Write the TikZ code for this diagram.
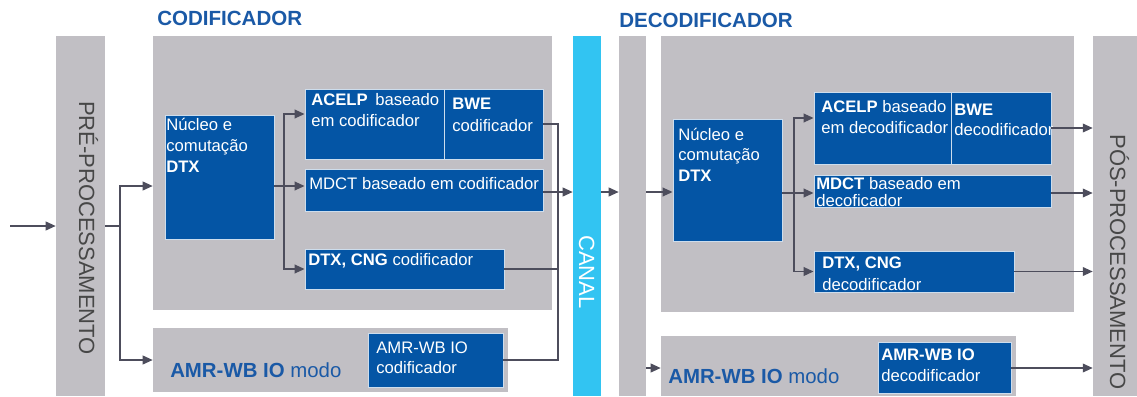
\documentclass[tikz,border=0pt]{standalone}
\usepackage{fontspec}
\setmainfont{Liberation Sans}
\usetikzlibrary{arrows.meta,fit}
\definecolor{cinza}{RGB}{193,191,196}
\definecolor{azulbloco}{RGB}{4,85,165}
\definecolor{azultitulo}{RGB}{26,89,166}
\definecolor{ciano}{RGB}{50,196,242}
\definecolor{cinzaseta}{RGB}{77,77,92}
\tikzset{
  zona/.style={fill=cinza, inner sep=0pt},
  bloco/.style={fill=azulbloco, draw=white!80!azulbloco, line width=0.6pt, inner sep=0pt},
  txt/.style={text=white, inner sep=0pt, anchor=base west, font=\fontsize{12.5}{14}\selectfont},
  titulo/.style={text=azultitulo, inner sep=0pt, anchor=base west, font=\fontsize{15.4}{18}\selectfont\bfseries},
  modo/.style={text=azultitulo, inner sep=0pt, anchor=base west, font=\fontsize{15.3}{18}\selectfont},
  barra/.style={inner sep=0pt, anchor=base, rotate=-90, text=black!72, font=\fontsize{16.5}{18}\selectfont},
  linha/.style={draw=cinzaseta, line width=1.3pt},
  seta/.style={linha, -{Triangle[length=7.5pt,width=6.5pt]}},
}
\begin{document}
\begin{tikzpicture}[x=0.75pt,y=-0.75pt]
\useasboundingbox (0,0) rectangle (1137,396);

% faixas e zonas
\node[zona, fit={(56,36) (105,396)}] (pre) {};
\node[zona, fit={(153,36) (552,310)}] (codzona) {};
\node[zona, fit={(153,328) (508,392)}] (codmodo) {};
\node[fill=ciano, inner sep=0pt, fit={(573,36) (601,396)}] (canal) {};
\node[zona, fit={(619,36) (646,396)}] (decbarra) {};
\node[zona, fit={(661,36) (1074,312)}] (deczona) {};
\node[zona, fit={(661,336) (1016,396)}] (decmodo) {};
\node[zona, fit={(1093,36) (1137,396)}] (pos) {};

\node[titulo] (codtit) at (157,26) {CODIFICADOR};
\node[titulo] (dectit) at (619,27) {DECODIFICADOR};

\node[barra] (pretxt) at (79,228) {PRÉ-PROCESSAMENTO};
\node[barra, text=white] (canaltxt) at (579,272) {CANAL};
\node[barra] (postxt) at (1110,262) {PÓS-PROCESSAMENTO};

% codificador
\node[bloco, fit={(165,115) (274,239)}] (codnucleo) {};
\node[bloco, fit={(305,89) (444,159)}] (codacelp) {};
\node[bloco, fit={(444,89) (543,159)}] (codbwe) {};
\node[bloco, fit={(305,169) (543,211)}] (codmdct) {};
\node[bloco, fit={(305,249) (504,289)}] (coddtx) {};
\node[bloco, fit={(368,333) (503,387)}] (codamr) {};

\node[txt] (cn1) at (166,130) {Núcleo e};
\node[txt] (cn2) at (166,151) {comutação};
\node[txt] (cn3) at (166,172) {\textbf{DTX}};
\node[txt] (ca1) at (311,105) {\textbf{ACELP}\hspace{0.45em}baseado};
\node[txt] (ca2) at (311,126) {em codificador};
\node[txt] (cb1) at (452,109) {\textbf{BWE}};
\node[txt] (cb2) at (452,131) {codificador};
\node[txt] (cm1) at (309,189) {MDCT baseado em codificador};
\node[txt] (cd1) at (308,265) {\textbf{DTX, CNG} codificador};
\node[txt] (cw1) at (376,353) {AMR-WB IO};
\node[txt] (cw2) at (376,373) {codificador};
\node[modo] (cmodo) at (170,377) {\textbf{AMR-WB IO} modo};

% decodificador
\node[bloco, fit={(673,119) (782,241)}] (decnucleo) {};
\node[bloco, fit={(814,92) (951,164)}] (decacelp) {};
\node[bloco, fit={(951,92) (1051,164)}] (decbwe) {};
\node[bloco, fit={(814,175) (1051,207)}] (decmdct) {};
\node[bloco, fit={(814,251) (1014,292)}] (decdtx) {};
\node[bloco, fit={(878,342) (1011,393)}] (decamr) {};

\node[txt] (dn1) at (678,140) {Núcleo e};
\node[txt] (dn2) at (678,160) {comutação};
\node[txt] (dn3) at (678,181) {\textbf{DTX}};
\node[txt] (da1) at (821,112) {\textbf{ACELP} baseado};
\node[txt] (da2) at (821,133) {em decodificador};
\node[txt] (db1) at (954,115) {\textbf{BWE}};
\node[txt] (db2) at (954,135) {decodificador};
\node[txt] (dm1) at (816,189) {\textbf{MDCT} baseado em};
\node[txt] (dm2) at (816,206) {decoficador};
\node[txt] (dd1) at (822,268) {\textbf{DTX, CNG}};
\node[txt] (dd2) at (822,290) {decodificador};
\node[txt] (dw1) at (881,360) {\textbf{AMR-WB IO}};
\node[txt] (dw2) at (881,381) {decodificador};
\node[modo] (dmodo) at (668,383) {\textbf{AMR-WB IO} modo};

% ligacoes codificador
\coordinate (entrada) at (10,226);
\coordinate (cram) at (120,226);
\coordinate (codvert) at (284,186);
\coordinate (codsaida) at (558,192);
\draw[seta] (entrada) -- (entrada -| pre.west);
\draw[linha] (cram -| pre.east) -- (cram);
\draw[seta] (cram) |- (codzona.west |- 0,186);
\draw[seta] (cram) |- (codmodo.west);
\draw[linha] (codnucleo.east |- codvert) -- (codvert);
\draw[seta] (codvert) |- (codacelp.west |- 0,114);
\draw[seta] (codvert) -- (codmdct.west |- codvert);
\draw[seta] (codvert) |- (coddtx.west);
\draw[linha] (codbwe.east |- 0,124) -| (codsaida |- codamr.east) -- (codamr.east);
\draw[linha] (coddtx.east) -- (coddtx.east -| codsaida);
\draw[seta] (codmdct.east |- codsaida) -- (canal.west |- codsaida);

% ligacoes decodificador
\coordinate (decvert) at (794,193);
\draw[seta] (canal.east |- codsaida) -- (decbarra.west |- codsaida);
\draw[seta] (decbarra.east |- codsaida) -- (decnucleo.west |- codsaida);
\draw[seta] (decbarra.east |- 0,368) -- (decmodo.west |- 0,368);
\draw[linha] (decnucleo.east |- decvert) -- (decvert);
\draw[seta] (decvert) |- (decacelp.west |- 0,118);
\draw[seta] (decvert) -- (decmdct.west |- decvert);
\draw[seta] (decvert) |- (decdtx.west);
\draw[seta] (decbwe.east |- 0,128) -- (pos.west |- 0,128);
\draw[seta] (decmdct.east |- decvert) -- (pos.west |- decvert);
\draw[seta] (decdtx.east) -- (decdtx.east -| pos.west);
\draw[seta] (decamr.east |- 0,368) -- (pos.west |- 0,368);
\end{tikzpicture}
\end{document}
